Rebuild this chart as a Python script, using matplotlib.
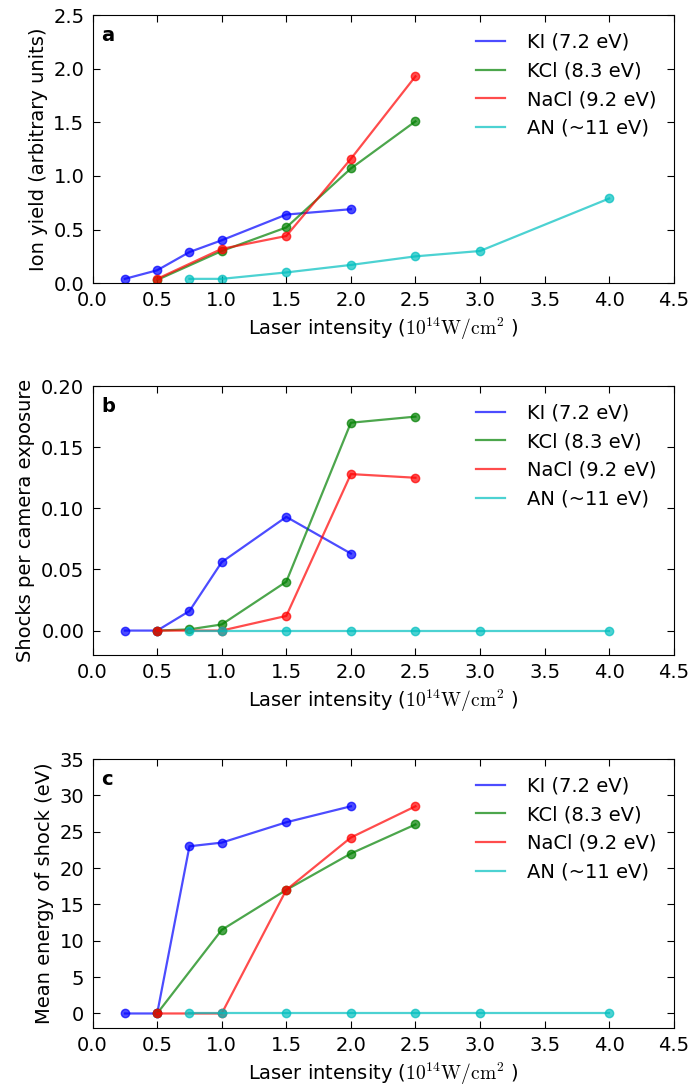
import numpy as np
import matplotlib
matplotlib.use('Agg')
import matplotlib.pyplot as plt

# Данные
x_ki = [0.25, 0.5, 0.75, 1.0, 1.5, 2.0]
x_kcl = [0.5, 1.0, 1.5, 2.0, 2.5]
x_kcl_b = [0.5, 0.75, 1.0, 1.5, 2.0, 2.5]
x_nacl = [0.5, 1.0, 1.5, 2.0, 2.5]
x_an = [0.75, 1.0, 1.5, 2.0, 2.5, 3.0, 4.0]

# a: выход ионов
yield_ki = [0.04, 0.12, 0.29, 0.40, 0.64, 0.69]
yield_kcl = [0.03, 0.30, 0.52, 1.07, 1.51]
yield_nacl = [0.04, 0.32, 0.44, 1.16, 1.93]
yield_an = [0.04, 0.04, 0.10, 0.17, 0.25, 0.30, 0.79]

# b: ударные волны на кадр
shocks_ki = [0.0, 0.0, 0.016, 0.056, 0.093, 0.063]
shocks_kcl = [0.0, 0.001, 0.005, 0.040, 0.170, 0.175]
shocks_nacl = [0.0, 0.0, 0.012, 0.128, 0.125]
shocks_an = [0, 0, 0, 0, 0, 0, 0]

# c: средняя энергия
energy_ki = [0.0, 0.0, 23.0, 23.5, 26.3, 28.5]
energy_kcl = [0.0, 11.5, 17.0, 22.0, 26.0]
energy_nacl = [0.0, 0.0, 17.0, 24.2, 28.5]
energy_an = [0, 0, 0, 0, 0, 0, 0]

labels = ['KI (7.2 eV)', 'KCl (8.3 eV)', 'NaCl (9.2 eV)', 'AN (~11 eV)']
colors = ['b', 'g', 'r', 'c']

plt.rcParams['font.size'] = 14
plt.rcParams['mathtext.fontset'] = 'cm'
plt.rcParams['xtick.direction'] = 'in'
plt.rcParams['ytick.direction'] = 'in'
plt.rcParams['xtick.top'] = True
plt.rcParams['ytick.right'] = True
plt.rcParams['xtick.major.size'] = 5
plt.rcParams['ytick.major.size'] = 5
plt.rcParams['xtick.major.pad'] = 6
plt.rcParams['ytick.major.pad'] = 6

fig = plt.figure(figsize=(6.91, 10.89), dpi=100)
left, width = 0.134, 0.841
boxes = [(0.740, 0.246), (0.3985, 0.247), (0.056, 0.247)]

panels = [
    ('a', 'Ion yield (arbitrary units)',
     [(x_ki, yield_ki), (x_kcl, yield_kcl), (x_nacl, yield_nacl), (x_an, yield_an)],
     (0, 2.5), np.arange(0, 2.51, 0.5), '%.1f'),
    ('b', 'Shocks per camera exposure',
     [(x_ki, shocks_ki), (x_kcl_b, shocks_kcl), (x_nacl, shocks_nacl), (x_an, shocks_an)],
     (-0.02, 0.2), np.arange(0, 0.201, 0.05), '%.2f'),
    ('c', 'Mean energy of shock (eV)',
     [(x_ki, energy_ki), (x_kcl, energy_kcl), (x_nacl, energy_nacl), (x_an, energy_an)],
     (-2, 35), np.arange(0, 36, 5), '%d'),
]

for (bottom, height), (tag, ylab, series, ylim, yt, fmt) in zip(boxes, panels):
    ax = fig.add_axes([left, bottom, width, height])
    for (xs, ys), lab, col in zip(series, labels, colors):
        ax.plot(xs, ys, '-o', color=col, alpha=0.7, lw=1.6, ms=6,
                mec=col, label=lab)
    ax.set_xlim(0, 4.5)
    ax.set_ylim(*ylim)
    ax.set_xticks(np.arange(0, 4.51, 0.5))
    ax.set_xticklabels(['%.1f' % v for v in np.arange(0, 4.51, 0.5)])
    ax.set_yticks(yt)
    ax.set_yticklabels([fmt % v for v in yt])
    ax.set_xlabel(r'Laser intensity ($10^{14}\mathrm{W/cm^2}$ )', labelpad=4)
    ax.set_ylabel(ylab, labelpad=4)
    ax.text(0.015, 0.96, tag, transform=ax.transAxes, fontweight='bold',
            fontsize=14, va='top', ha='left')
    leg = ax.legend(loc='upper right', frameon=False, handlelength=1.5,
                    handletextpad=1.1, labelspacing=0.5)
    for h in leg.legend_handles:
        h.set_marker('')

fig.savefig('out.png', dpi=100, facecolor='white')
